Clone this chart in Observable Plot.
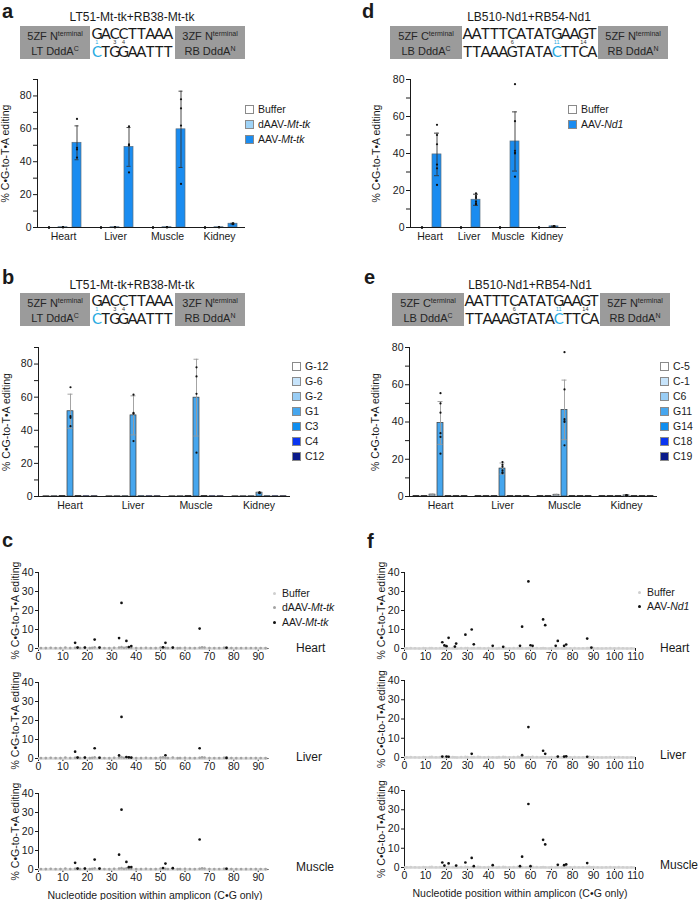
<!DOCTYPE html>
<html>
<head>
<meta charset="utf-8">
<script src="https://cdn.jsdelivr.net/npm/d3@7"></script>
<script src="https://cdn.jsdelivr.net/npm/@observablehq/plot@0.6"></script>
<style>
  html,body{margin:0;padding:0;background:#fff;}
  #page{position:relative;width:700px;height:900px;overflow:hidden;font-family:'Liberation Sans',Arial,Helvetica,sans-serif;color:#1a1a1a;}
  .plab{font-weight:bold;font-size:20px;line-height:22px;}
  .ttl{font-size:12px;line-height:14px;white-space:nowrap;transform:translateX(-50%);}
  .leg{font-size:10.5px;line-height:15px;white-space:nowrap;}
  .leg .row{display:flex;align-items:center;height:15px;}
  .leg .sw{width:9px;height:9px;border:1px solid #8a8a8a;box-sizing:border-box;margin-right:4px;}
  .leg .dt{width:3px;height:3px;border-radius:50%;margin:0 6px 0 2px;}
  .tis{font-size:12px;line-height:14px;white-space:nowrap;}
  .xt{font-size:10.5px;line-height:12px;white-space:nowrap;transform:translateX(-50%);}
</style>
</head>
<body>
<div id="page"></div>
<script>
// ---------------- DATA ----------------
const tissues = ["Heart", "Liver", "Muscle", "Kidney"];
const yTicks90 = [0, 10, 20, 30, 40, 50, 60, 70, 80, 90];
const yTicks80 = [0, 10, 20, 30, 40, 50, 60, 70, 80];
const scatterYTicks = [0, 10, 20, 30, 40];
const cXTicks = [0, 10, 20, 30, 40, 50, 60, 70, 80, 90];
const fXTicks = [0, 10, 20, 30, 40, 50, 60, 70, 80, 90, 100, 110];
const yLabel = "% C•G-to-T•A editing";
const xLabel = "Nucleotide position within amplicon (C•G only)";

// Panel a
const aSeries = ["Buffer", "dAAV-Mt-tk", "AAV-Mt-tk"];
const aColors = ["#ffffff", "#9fd3f7", "#1a8cf0"];
const aMeans = [[0, 0, 0, 0], [0.2, 0.2, 0.2, 0.2], [51.5, 49.0, 59.7, 2.3]];
const aSDs = [[0, 0, 0, 0], [0, 0, 0, 0], [10.3, 11.8, 23.2, 0.3]];
const aDots = [
  [[0, 0, 0, 0], [0, 0, 0, 0], [0, 0, 0, 0], [0, 0, 0, 0]],
  [[0.2, 0.1, 0.3, 0.2], [0.2, 0.1, 0.2, 0.3], [0.2, 0.3, 0.1, 0.2], [0.1, 0.2, 0.2, 0.3]],
  [[66, 48.5, 47.5, 42.5], [61.5, 50.5, 50, 33.5], [78, 72.5, 62, 26.5], [2.5, 2.3, 2.1, 2.0]]
];

// Panel b
const bSeries = ["G-12", "G-6", "G-2", "G1", "C3", "C4", "C12"];
const bColors = ["#ffffff", "#c7e4fb", "#99cdf5", "#46a6ee", "#0f8ef0", "#0a35f0", "#0a1a8a"];
const bMeans = [
  [0.2, 0.2, 0.2, 0.2], [0.2, 0.2, 0.2, 0.2], [0.3, 0.2, 0.3, 0.2],
  [51.5, 49.0, 59.7, 2.3],
  [0.3, 0.2, 0.3, 0.2], [0.2, 0.2, 0.2, 0.2], [0.2, 0.2, 0.2, 0.2]
];
const bSDs = [
  [0, 0, 0, 0], [0, 0, 0, 0], [0, 0, 0, 0],
  [10.3, 11.8, 23.2, 0.3],
  [0, 0, 0, 0], [0, 0, 0, 0], [0, 0, 0, 0]
];
const bDots = [null, null, null,
  [[66, 48.5, 47.5, 42.5], [61.5, 50.5, 50, 33.5], [78, 72.5, 62, 26.5], [2.5, 2.3, 2.1, 2.0]],
  null, null, null];

// Panel d
const dSeries = ["Buffer", "AAV-Nd1"];
const dColors = ["#ffffff", "#1a8cf0"];
const dMeans = [[0, 0, 0, 0], [39.5, 15.0, 46.5, 0.6]];
const dSDs = [[0, 0, 0, 0], [11.5, 3.0, 16.0, 0.2]];
const dDots = [
  [[0, 0, 0, 0], [0, 0, 0, 0], [0, 0, 0, 0], [0, 0, 0, 0]],
  [[55.5, 50, 45, 34, 32, 23], [18.5, 17, 16, 14, 13, 12.5], [77.5, 57.5, 41.5, 40.5, 40, 27.5], [0.8, 0.6, 0.5, 0.6, 0.5, 0.4]]
];

// Panel e
const eSeries = ["C-5", "C-1", "C6", "G11", "G14", "C18", "C19"];
const eColors = ["#ffffff", "#c7e4fb", "#99cdf5", "#46a6ee", "#0f8ef0", "#0a35f0", "#0a1a8a"];
const eMeans = [
  [0.2, 0.2, 0.2, 0.2], [0.2, 0.2, 0.2, 0.2], [1.0, 0.3, 0.9, 0.3],
  [39.5, 15.0, 46.5, 0.6],
  [0.2, 0.2, 0.2, 0.2], [0.2, 0.2, 0.2, 0.2], [0.2, 0.2, 0.2, 0.2]
];
const eSDs = [
  [0, 0, 0, 0], [0, 0, 0, 0], [0.3, 0, 0.3, 0],
  [11.5, 3.0, 16.0, 0.2],
  [0, 0, 0, 0], [0, 0, 0, 0], [0, 0, 0, 0]
];
const eDots = [null, null, null,
  [[55.5, 50, 45, 34, 32, 23], [18.5, 17, 16, 14, 13, 12.5], [77.5, 57.5, 41.5, 40.5, 40, 27.5], [0.8, 0.6, 0.5, 0.6, 0.5, 0.4]],
  null, null, null];

// Panel c (Mt-tk amplicon)
const cSeries = ["Buffer", "dAAV-Mt-tk", "AAV-Mt-tk"];
const cDotColors = ["#cfcfcf", "#a3a3a3", "#111111"];
const cPositions = [1,3,5,7,9,11,13,15,16,17,19,21,22,23,25,27,29,31,33,34,35,36,37,38,40,42,44,46,48,50,51,52,53,55,57,58,60,62,64,66,67,68,70,72,74,76,77,79,81,83,85,87,89,91,93];
const cBufferVals = [0.1,0.2,0.1,0.0,0.2,0.1,0.2,0.3,0.1,0.2,0.1,0.2,0.1,0.3,0.2,0.1,0.0,0.2,0.3,0.2,0.1,0.2,0.3,0.2,0.1,0.2,0.1,0.0,0.2,0.3,0.2,0.1,0.2,0.3,0.1,0.2,0.1,0.2,0.1,0.3,0.2,0.1,0.2,0.1,0.0,0.2,0.1,0.2,0.1,0.0,0.2,0.1,0.2,0.1,0.1];
const cDeadVals = [0.3,0.2,0.4,0.3,0.2,0.5,0.3,0.4,0.6,0.3,0.5,0.2,0.4,0.6,0.5,0.3,0.2,0.4,0.5,0.7,0.4,0.6,0.5,0.4,0.3,0.2,0.4,0.3,0.2,0.5,0.6,0.4,0.3,0.5,0.2,0.3,0.4,0.3,0.2,0.4,0.6,0.5,0.3,0.2,0.3,0.4,0.5,0.3,0.2,0.3,0.2,0.3,0.2,0.3,0.2];
const cHeartAAV = [[15,3],[16,0.5],[19,0.5],[23,4.7],[25,0.5],[33,5.5],[34,24],[36,4],[37,0.8],[38,1.3],[51,0.6],[52,3],[55,0.5],[66,10.5],[77,0.4]];
const cLiverAAV = [[15,3.6],[16,0.5],[19,0.5],[23,5.4],[25,0.4],[33,1.6],[34,21.9],[36,0.8],[37,0.6],[38,0.5],[52,1.7],[66,5.4],[77,0.3]];
const cMuscleAAV = [[15,3.5],[16,0.5],[19,0.5],[23,5.2],[25,0.5],[33,7.8],[34,31.5],[36,4],[37,1.2],[38,1.3],[51,0.8],[52,3.1],[55,0.7],[66,15.8],[77,0.4]];

// Panel f (Nd1 amplicon)
const fSeries = ["Buffer", "AAV-Nd1"];
const fDotColors = ["#cfcfcf", "#111111"];
const fPositions = [1,3,5,7,9,10,12,13,15,17,18,19,20,21,23,24,25,27,29,30,32,33,35,36,38,40,42,44,45,47,48,50,52,54,55,56,58,59,60,61,63,65,66,67,69,70,72,73,75,76,77,79,81,83,85,87,88,89,90,92,94,96,98,100,102,104,106,108];
const fBufferVals = [0.1,0.2,0.1,0.0,0.2,0.1,0.2,0.3,0.1,0.2,0.1,0.2,0.1,0.3,0.2,0.1,0.0,0.2,0.3,0.2,0.1,0.2,0.3,0.2,0.1,0.2,0.1,0.0,0.2,0.3,0.2,0.1,0.2,0.3,0.1,0.2,0.1,0.2,0.1,0.3,0.2,0.1,0.2,0.1,0.0,0.2,0.1,0.2,0.1,0.0,0.2,0.1,0.2,0.1,0.1,0.2,0.3,0.1,0.2,0.1,0.0,0.1,0.2,0.1,0.2,0.1,0.0,0.1];
const fHeartAAV = [[18,3.3],[19,1.6],[20,1.2],[21,5.6],[24,1.0],[24.6,2.6],[29,7.3],[32,10],[33,2.2],[42,1.4],[47,0.9],[55,1.4],[56,11.5],[59,35.3],[60,1.7],[61,1.4],[66,15.3],[67,12.3],[72,1.4],[73,4],[76,1.4],[77,2.1],[87,5.2],[89,0.5]];
const fLiverAAV = [[18,0.5],[20,0.5],[21,0.4],[32,1.9],[56,1.2],[59,15.8],[66,3.5],[67,1.9],[73,0.5],[76,0.5],[77,0.6],[87,0.4]];
const fMuscleAAV = [[18,2.6],[19,1],[21,2.1],[24.6,1],[29,2.6],[32,5],[33,0.7],[42,1.2],[55,0.7],[56,5.6],[59,33],[60,0.7],[66,14.4],[67,12],[73,1.4],[76,1.2],[77,1.6],[87,2.3]];

// Header diagrams
const aTitle = "LT51-Mt-tk+RB38-Mt-tk";
const aHeader = {left: [["5ZF N", "terminal"], ["LT DddA", "C"]], right: [["3ZF N", "terminal"], ["RB DddA", "N"]],
  top: "GACCTTAAA", bottom: "CTGGAATTT", hi: 0, nums: [[0, "1", true], [2, "3", false], [3, "4", false]]};
const dTitle = "LB510-Nd1+RB54-Nd1";
const dHeader = {left: [["5ZF C", "terminal"], ["LB DddA", "C"]], right: [["5ZF N", "terminal"], ["RB DddA", "N"]],
  top: "AATTTCATATGAAGT", bottom: "TTAAAGTATACTTCA", hi: 10, nums: [[5, "6", false], [10, "11", true], [13, "14", false]]};

// ---------------- RENDERING ----------------
const FONT = "'Liberation Sans', Arial, Helvetica, sans-serif";
const CYAN = "#27aae1";
const page = document.getElementById("page");
function put(el, left, top) {
  el.style.position = "absolute"; el.style.left = left + "px"; el.style.top = top + "px";
  page.appendChild(el); return el;
}
function html(cls, inner) { const e = document.createElement("div"); if (cls) e.className = cls; e.innerHTML = inner; return e; }
const ital = s => s.replace(/^(d?AAV-)(.+)$/, "$1<i>$2</i>");

function header(o, left, top, widths) {
  const [wl, wc, wr] = widths; const W = wl + wc + wr, H = 33, P = 4, cw = 8.9;
  let s = `<svg xmlns="http://www.w3.org/2000/svg" width="${W}" height="${H + 2 * P}" font-family="${FONT}" style="display:block;overflow:visible">`;
  s += `<g transform="translate(0,${P})">`;
  s += `<rect width="${W}" height="${H}" fill="#9b9b9b"/><rect x="${wl}" width="${wc}" height="${H}" fill="#fff"/>`;
  const side = (lines, cx) => lines.map((l, i) =>
    `<text x="${cx}" y="${i ? 29 : 13.5}" text-anchor="middle" font-size="11" fill="#262626">${l[0]}<tspan font-size="7" dy="-4">${l[1]}</tspan></text>`).join("");
  s += side(o.left, wl / 2) + side(o.right, wl + wc + wr / 2);
  const x0 = wl + (wc - cw * o.top.length) / 2;
  const xs = str => [...str].map((c, i) => (x0 + (i + 0.5) * cw).toFixed(2)).join(" ");
  // one text element holding both strands and the position numbers
  let t = `<text text-anchor="middle" font-family="Lato, 'Open Sans', sans-serif" font-size="15" fill="#1a1a1a">`;
  t += `<tspan x="${xs(o.top)}" y="12.5">${o.top}</tspan>`;
  t += [...o.bottom].map((c, i) =>
    `<tspan x="${(x0 + (i + 0.5) * cw).toFixed(2)}" y="30.5"${i === o.hi ? ` fill="${CYAN}"` : ""}>${c}</tspan>`).join("");
  t += o.nums.map(([i, n, c]) =>
    `<tspan x="${(x0 + (i + 0.5) * cw).toFixed(2)}" y="18" font-family="${FONT}" font-size="5.5" fill="${c ? CYAN : "#333"}">${n}</tspan>`).join("");
  t += `</text>`;
  s += t + "</g></svg>";
  put(html("", s), left, top - P);
}

function barChart(o) {
  const rows = [], errs = [], pts = [];
  o.series.forEach((s, si) => tissues.forEach((t, ti) => {
    const m = o.means[si][ti], sd = o.sds[si][ti];
    rows.push({tissue: t, series: s, mean: m});
    if (sd > 0) errs.push({tissue: t, series: s, lo: Math.max(0, m - sd), hi: m + sd});
    if (o.dots[si]) o.dots[si][ti].forEach(v => pts.push({tissue: t, series: s, v}));
  }));
  const chart = Plot.plot({
    width: o.width, height: o.height,
    marginLeft: o.mL, marginRight: o.mR, marginTop: o.mT, marginBottom: o.mB,
    style: {fontSize: "10.5px", fontFamily: FONT, color: "#1a1a1a", background: "transparent", overflow: "visible"},
    fx: {domain: tissues, padding: 0, axis: "bottom", label: null, tickSize: 0, tickPadding: 5},
    x: {domain: o.series, axis: null, paddingInner: o.padIn, paddingOuter: o.padOut},
    y: {domain: [0, o.yMax], ticks: o.yTicks, tickFormat: d => d % 20 === 0 ? String(d) : "", tickSize: 4, tickPadding: 2,
        line: true, label: yLabel, labelAnchor: "center", labelOffset: o.labelOffset, labelArrow: false},
    color: {domain: o.series, range: o.colors},
    marks: [
      Plot.barY(rows, {fx: "tissue", x: "series", y: "mean", fill: "series", stroke: o.barStroke, strokeWidth: 0.7}),
      Plot.ruleY([0], {stroke: "#1a1a1a", strokeWidth: 1}),
      Plot.ruleX(errs, {fx: "tissue", x: "series", y1: "lo", y2: "hi", stroke: o.errColor, strokeWidth: 0.9}),
      Plot.tickY(errs, {fx: "tissue", x: "series", y: "hi", stroke: o.errColor, strokeWidth: 0.9, insetLeft: o.capInset, insetRight: o.capInset}),
      Plot.tickY(errs, {fx: "tissue", x: "series", y: "lo", stroke: o.errColor, strokeWidth: 0.9, insetLeft: o.capInset, insetRight: o.capInset}),
      Plot.dot(pts, {fx: "tissue", x: "series", y: "v", r: 1.1, fill: "#111"})
    ]
  });
  put(chart, o.left, o.top);
}

function scatterChart(o) {
  const base = o.layers.map(l => l.xs.map((x, i) => ({x, y: l.ys[i]})));
  const chart = Plot.plot({
    width: o.width, height: o.height,
    marginLeft: o.mL, marginRight: o.mR, marginTop: o.mT, marginBottom: o.mB,
    style: {fontSize: "10.5px", fontFamily: FONT, color: "#1a1a1a", background: "transparent", overflow: "visible"},
    x: {domain: [0, o.xMax], ticks: o.xTicks, tickSize: 3, tickPadding: 1, line: true, label: null},
    y: {domain: [0, 40], ticks: scatterYTicks, tickSize: 3, tickPadding: 2, line: true,
        label: yLabel, labelAnchor: "center", labelOffset: o.labelOffset, labelArrow: false},
    marks: [
      Plot.ruleY([0], {stroke: "#d6d6d6", strokeWidth: 2.6}),
      ...base.map((d, i) => Plot.dot(d, {x: "x", y: "y", r: 1.3, fill: o.layers[i].color})),
      Plot.dot(o.active, {x: d => d[0], y: d => d[1], r: 1.35, fill: o.activeColor})
    ]
  });
  put(chart, o.left, o.top);
}

function barLegend(series, colors, left, top) {
  const inner = series.map((s, i) =>
    `<div class="row"><div class="sw" style="background:${colors[i]}"></div><span>${ital(s)}</span></div>`).join("");
  put(html("leg", inner), left, top);
}
function dotLegend(series, colors, left, top) {
  const inner = series.map((s, i) =>
    `<div class="row" style="height:14.5px"><div class="dt" style="background:${colors[i]}"></div><span>${ital(s)}</span></div>`).join("");
  put(html("leg", inner), left, top);
}

// panel letters
[["a", 2, 0], ["b", 2, 266], ["c", 2, 529], ["d", 362, 0], ["e", 364, 266], ["f", 367, 530]]
  .forEach(([t, x, y]) => put(html("plab", t), x, y));

// titles + headers
put(html("ttl", aTitle), 132, 10);
put(html("ttl", aTitle), 132, 278);
put(html("ttl", dTitle), 529, 10);
put(html("ttl", dTitle), 530, 278);
header(aHeader, 20, 26, [70, 85, 70]);
header(aHeader, 20, 293, [70, 85, 70]);
header(dHeader, 390, 26, [72, 136, 70]);
header(dHeader, 392, 293, [72, 136, 70]);

// panel a
barChart({series: aSeries, colors: aColors, means: aMeans, sds: aSDs, dots: aDots,
  left: 0, top: 70, width: 250, height: 185, mL: 37, mR: 5, mT: 9, mB: 28,
  yMax: 90, yTicks: yTicks90, labelOffset: 36, padIn: 0.333, padOut: 0.4,
  barStroke: "#5a6f80", errColor: "#333", capInset: 2.5});
barLegend(aSeries, aColors, 245, 102);

// panel b
barChart({series: bSeries, colors: bColors, means: bMeans, sds: bSDs, dots: bDots,
  left: 0, top: 337, width: 295, height: 185, mL: 37, mR: 5, mT: 10, mB: 26,
  yMax: 90, yTicks: yTicks90, labelOffset: 36, padIn: 0.294, padOut: 0.367,
  barStroke: "#3a3a3a", errColor: "#9a9a9a", capInset: 0.5});
barLegend(bSeries, bColors, 292, 359);

// panel d
barChart({series: dSeries, colors: dColors, means: dMeans, sds: dSDs, dots: dDots,
  left: 350, top: 70, width: 220, height: 185, mL: 58, mR: 3, mT: 9, mB: 28,
  yMax: 80, yTicks: yTicks80, labelOffset: 38, padIn: 0.375, padOut: 0.43,
  barStroke: "#5a6f80", errColor: "#333", capInset: 2});
barLegend(dSeries, dColors, 568, 102);

// panel e
barChart({series: eSeries, colors: eColors, means: eMeans, sds: eSDs, dots: eDots,
  left: 350, top: 337, width: 312, height: 185, mL: 58, mR: 4, mT: 10, mB: 26,
  yMax: 80, yTicks: yTicks80, labelOffset: 38, padIn: 0.29, padOut: 0.365,
  barStroke: "#3a3a3a", errColor: "#9a9a9a", capInset: 0.5});
barLegend(eSeries, eColors, 660, 359);

// panel c
const cActive = [cHeartAAV, cLiverAAV, cMuscleAAV];
const cTops = [562, 672, 783];
cActive.forEach((act, i) => scatterChart({
  left: 0, top: cTops[i], width: 272, height: 105, mL: 38, mR: 4.5, mT: 10, mB: 19,
  xMax: 94, xTicks: cXTicks, labelOffset: 27,
  layers: [{xs: cPositions, ys: cBufferVals, color: cDotColors[0]}, {xs: cPositions, ys: cDeadVals, color: cDotColors[1]}],
  active: act, activeColor: cDotColors[2]}));
dotLegend(cSeries, cDotColors, 271, 586);
[641, 750, 860].forEach((y, i) => put(html("tis", tissues[i]), 296, y));
put(html("xt", xLabel), 155, 889);

// panel f
const fActive = [fHeartAAV, fLiverAAV, fMuscleAAV];
const fTops = [562, 670, 780];
const fHeights = [105, 106, 106];
fActive.forEach((act, i) => scatterChart({
  left: 350, top: fTops[i], width: 290, height: fHeights[i], mL: 54, mR: 5, mT: 10, mB: 19,
  xMax: 110, xTicks: fXTicks, labelOffset: 27,
  layers: [{xs: fPositions, ys: fBufferVals, color: fDotColors[0]}],
  active: act, activeColor: fDotColors[1]}));
dotLegend(fSeries, fDotColors, 636, 585);
[641, 748, 858].forEach((y, i) => put(html("tis", tissues[i]), 660, y));
put(html("xt", xLabel), 520, 887);
</script>
</body>
</html>
